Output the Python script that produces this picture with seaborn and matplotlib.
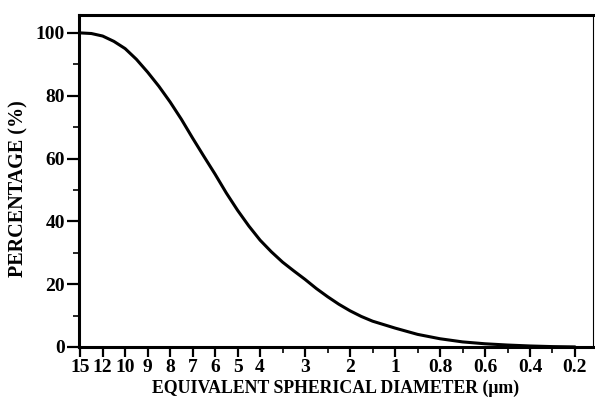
import matplotlib
matplotlib.use("Agg")
import matplotlib.pyplot as plt
import seaborn as sns
import pandas as pd
from matplotlib.ticker import MultipleLocator, FixedLocator

# Tick positions on the (non-uniform) diameter axis, in tick-index units
tick_diameters = [15, 12, 10, 9, 8, 7, 6, 5, 4, 3.5, 3, 2.5, 2, 1.5, 1,
                  0.9, 0.8, 0.7, 0.6, 0.5, 0.4, 0.3, 0.2]
tick_labels = ["15", "12", "10", "9", "8", "7", "6", "5", "4", "", "3", "", "2",
               "", "1", "", "0.8", "", "0.6", "", "0.4", "", "0.2"]

# Cumulative curve: position along the diameter axis (tick index) and percentage
curve_pos = [0, 0.5, 1, 1.5, 2, 2.5, 3, 3.5, 4, 4.5, 5, 5.5, 6, 6.5, 7, 7.5,
             8, 8.5, 9, 9.5, 10, 10.5, 11, 11.5, 12, 12.5, 13, 13.5, 14, 15,
             16, 17, 18, 19, 20, 21, 22]
curve_pct = [100, 99.8, 99, 97.3, 95, 91.6, 87.5, 83, 78, 72.5, 66.5, 60.7,
             55, 49, 43.5, 38.5, 34, 30.3, 27, 24.2, 21.5, 18.6, 16, 13.6,
             11.5, 9.7, 8.2, 7.1, 6, 4, 2.6, 1.6, 1.0, 0.6, 0.3, 0.1, 0]

df = pd.DataFrame({"pos": curve_pos, "pct": curve_pct})

sns.set_style("ticks")
plt.rcParams["font.family"] = ["Liberation Serif", "DejaVu Serif"]

fig = plt.figure(figsize=(5.95, 4.13), dpi=100)
ax = fig.add_axes([0.1328, 0.16, 0.8638, 0.8037])

sns.lineplot(data=df, x="pos", y="pct", ax=ax, color="black", linewidth=2.2)

ax.set_xlim(-0.05, 22.8)
ax.set_ylim(0, 105.7)

major_idx = [i for i, l in enumerate(tick_labels) if l != ""]
minor_idx = [i for i, l in enumerate(tick_labels) if l == ""]
ax.xaxis.set_major_locator(FixedLocator(major_idx))
ax.set_xticklabels([tick_labels[i] for i in major_idx])
ax.xaxis.set_minor_locator(FixedLocator(minor_idx))

ax.yaxis.set_major_locator(MultipleLocator(20))
ax.yaxis.set_minor_locator(MultipleLocator(10))

ax.tick_params(axis="both", which="major", direction="out", width=1.6,
               colors="black", labelsize=14)
ax.tick_params(axis="y", which="major", length=9, pad=1)
ax.tick_params(axis="y", which="minor", length=4, width=1.4, direction="out")
ax.tick_params(axis="x", which="major", length=7, pad=2)
ax.tick_params(axis="x", which="minor", length=4, width=1.4, direction="out")
for lab in ax.get_xticklabels() + ax.get_yticklabels():
    lab.set_fontweight("bold")

for s in ["left", "bottom", "top"]:
    ax.spines[s].set_visible(True)
    ax.spines[s].set_linewidth(2.2)
    ax.spines[s].set_color("black")
ax.spines["right"].set_visible(True)
ax.spines["right"].set_linewidth(0.8)
ax.spines["right"].set_color("black")

ax.set_xlabel("EQUIVALENT SPHERICAL DIAMETER (\u03bcm)", fontsize=12.8,
              fontweight="bold", color="black", labelpad=2)
ax.set_ylabel("PERCENTAGE (%)", fontsize=14.5, fontweight="bold",
              color="black")
ax.yaxis.set_label_coords(-0.099, 0.476)

fig.savefig("out.png", dpi=100)
